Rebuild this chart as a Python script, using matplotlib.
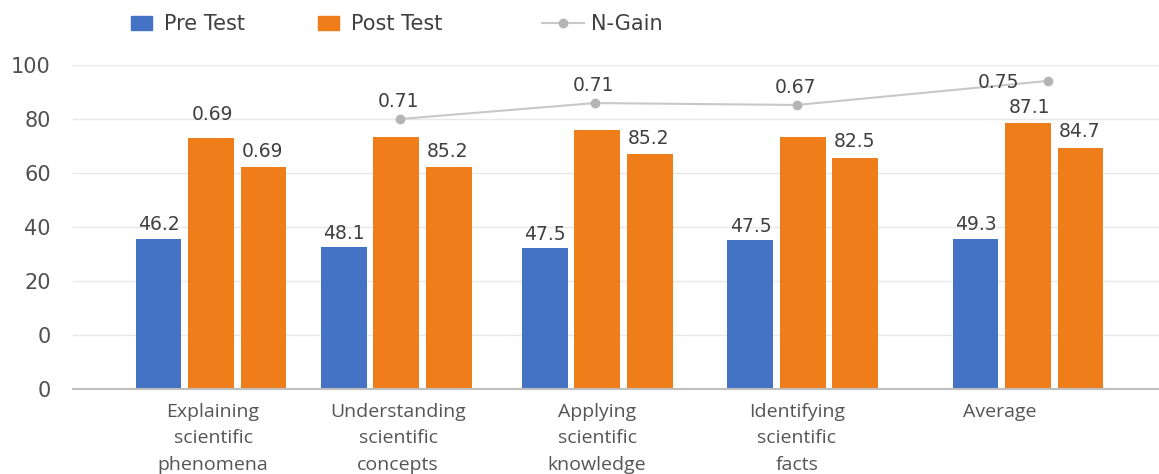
import matplotlib.pyplot as plt
import numpy as np
from matplotlib.patches import Patch
from matplotlib.lines import Line2D

# ---- data ----
categories = ['Explaining\nscientific\nphenomena', 'Understanding\nscientific\nconcepts',
              'Applying\nscientific\nknowledge', 'Identifying\nscientific\nfacts', 'Average']
pre_test = [35.6, 32.6, 32.2, 35.2, 35.6]
post_test = [73.0, 73.3, 75.9, 73.3, 78.5]
post_test_2 = [62.2, 62.2, 67.0, 65.6, 69.3]
n_gain = [np.nan, 80.0, 85.9, 85.2, 94.1]

pre_labels = ['46.2', '48.1', '47.5', '47.5', '49.3']
post_labels = ['0.69', '', '', '', '87.1']
post2_labels = ['0.69', '85.2', '85.2', '82.5', '84.7']
gain_labels = ['', '0.71', '0.71', '0.67', '0.75']

y_ticks = [-20, 0, 20, 40, 60, 80, 100]
y_tick_labels = ['0', '0', '20', '40', '60', '80', '100']

# ---- layout ----
group_x = np.array([0, 0.906, 1.89, 2.898, 4.0])
tick_x = [0.01, 0.916, 1.89, 2.869, 3.863]
gain_x = [0.0, 0.925, 1.88, 2.869, 4.098]
off = 0.257
w = 0.225
base = -20

blue = '#4472C4'
orange = '#EE7D1A'
gray = '#B4B4B4'
txt = '#404040'

W, H = 1159, 474
fig = plt.figure(figsize=(W / 100, H / 100), dpi=100)
ax = fig.add_axes([73 / W, (H - 389) / H, (W - 73) / W, 324 / H])

ax.bar(group_x - off, np.array(pre_test) - base, bottom=base, width=w, color=blue, zorder=2)
ax.bar(group_x, np.array(post_test) - base, bottom=base, width=w, color=orange, zorder=2)
ax.bar(group_x + off, np.array(post_test_2) - base, bottom=base, width=w, color=orange, zorder=2)
ax.plot(gain_x, n_gain, color='#C8C8C8', lw=1.5, marker='o', ms=6,
        mfc=gray, mec=gray, zorder=3)

lab = dict(ha='center', va='center', fontsize=13.5, color=txt, textcoords='offset points')
for i in range(len(categories)):
    ax.annotate(pre_labels[i], (group_x[i] - off, pre_test[i]), xytext=(0, 10), **lab)
    ax.annotate(post2_labels[i], (group_x[i] + off, post_test_2[i]), xytext=(-1, 11.5), **lab)
post_offsets = [16.5, 0, 0, 0, 11]
for i, t in enumerate(post_labels):
    if t:
        ax.annotate(t, (group_x[i], post_test[i]), xytext=(1, post_offsets[i]), **lab)
for i, t in enumerate(gain_labels):
    if not t:
        continue
    if i == len(gain_labels) - 1:
        ax.annotate(t, (gain_x[i], n_gain[i]), xytext=(-36, -1), **lab)
    else:
        ax.annotate(t, (gain_x[i], n_gain[i]), xytext=(-1, 12.5), **lab)

ax.set_ylim(base, 100)
ax.set_xlim(-0.6757, 4.6414)
ax.set_yticks(y_ticks, y_tick_labels, fontsize=15, color='#505050')
ax.set_xticks(tick_x, categories, fontsize=14, color='#555555', family='Open Sans',
              linespacing=1.6)
ax.tick_params(axis='both', length=0)
ax.tick_params(axis='y', pad=16)
ax.tick_params(axis='x', pad=10)
ax.grid(axis='y', color='#E8E8E8', lw=1, zorder=0)
for s in ['top', 'right', 'left']:
    ax.spines[s].set_visible(False)
ax.spines['bottom'].set_color('#BFBFBF')
ax.spines['bottom'].set_linewidth(1.5)

# legend, three pieces placed along the top
yl = 1 - 24 / H
common = dict(loc='center left', frameon=False, fontsize=15, borderpad=0,
              borderaxespad=0, labelcolor=txt)
fig.legend(handles=[Patch(color=blue)], labels=['Pre Test'], bbox_to_anchor=(131 / W, yl),
           handlelength=1.0, handleheight=0.65, handletextpad=0.6, **common)
fig.legend(handles=[Patch(color=orange)], labels=['Post Test'], bbox_to_anchor=(318 / W, yl),
           handlelength=1.0, handleheight=0.65, handletextpad=0.6, **common)
fig.legend(handles=[Line2D([], [], color='#C8C8C8', lw=1.5, marker='o', ms=6, mfc=gray, mec=gray)],
           labels=['N-Gain'], bbox_to_anchor=(542 / W, yl),
           handlelength=2.0, handletextpad=0.35, **common)

fig.savefig('out.png', dpi=100)
